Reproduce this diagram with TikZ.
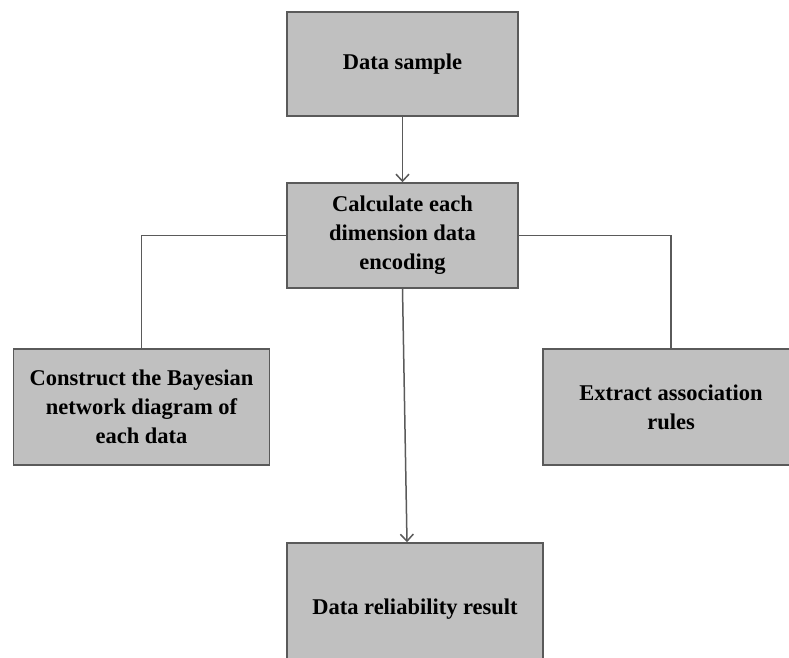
\documentclass[tikz,border=0pt]{standalone}
\usepackage{fontspec}
\setmainfont{Liberation Serif}
\usepackage{xcolor}
\usepackage{tikz}
\usetikzlibrary{arrows.meta,positioning,calc}
\definecolor{boxgray}{RGB}{192,192,192}
\definecolor{linegray}{RGB}{90,90,90}

\begin{document}
\begin{tikzpicture}[x=1pt,y=-1pt,font=\fontsize{22.5}{29}\selectfont\bfseries,
   box/.style={draw=linegray,fill=boxgray,line width=1.5pt,align=center,
               inner sep=0pt},
   link/.style={draw=linegray,line width=1.5pt},
   arr/.style={link,-{Straight Barb[length=7pt,width=13pt]}}]
  \useasboundingbox (0,0) rectangle (789,657);
  \node[box,minimum width=231,minimum height=104] (sample) at (402.5,64) {Data sample};
  \node[box,minimum width=231,minimum height=105] (calc) at (402.5,235.5)
       {Calculate each\\dimension data\\encoding};
  \node[box,minimum width=256,minimum height=116] (bayes) at (141.5,407)
       {Construct the Bayesian\\network diagram of\\each data};
  \node[box,minimum width=256,minimum height=116] (rules) at (671,407)
       {Extract association\\rules};
  \node[box,minimum width=256,minimum height=128,text depth=0pt] (result) at (415,607)
       {Data reliability result};
  \draw[arr] (sample) -- (calc);
  \draw[link] (calc.west) -| (bayes.north);
  \draw[link] (calc.east) -| (rules.north);
  \draw[arr] (calc.south) -- ([xshift=-8pt]result.north);
\end{tikzpicture}
\end{document}
